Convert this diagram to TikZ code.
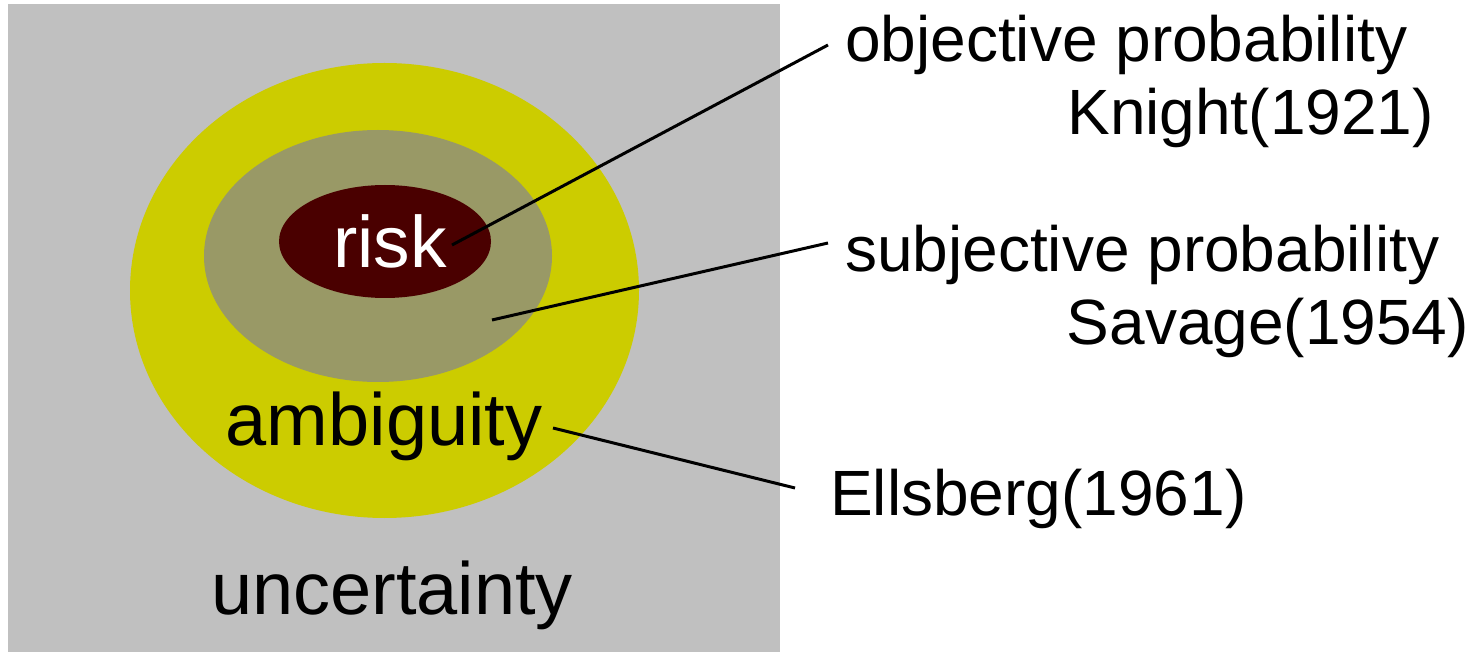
\documentclass[tikz,border=0pt]{standalone}
\usepackage{fontspec}
\setmainfont{Liberation Sans}
\definecolor{bggray}{HTML}{C0C0C0}
\definecolor{amb}{HTML}{CCCC00}
\definecolor{subj}{HTML}{999966}
\definecolor{riskc}{HTML}{4A0000}
\begin{document}
\begin{tikzpicture}[x=1pt,y=-1pt,
  lbl/.style={inner sep=0pt,font=\fontsize{64}{76}\selectfont},
  big/.style={inner sep=0pt,font=\fontsize{74}{88}\selectfont},
  conn/.style={line width=3pt}]
\useasboundingbox (0,0) rectangle (1476,652);
\fill[bggray] (8,4) rectangle (780,652);
\fill[amb] (384.5,290.5) ellipse [x radius=254.5, y radius=227.5];
\fill[subj] (378,256) ellipse [x radius=174, y radius=126];
\fill[riskc] (385,241.5) ellipse [x radius=106, y radius=56.5];
\node[big,white,anchor=base,font=\fontsize{73}{88}\selectfont] (risk) at (390,268) {risk};
\node[big,anchor=base] (amb) at (384,445) {ambiguity};
\node[big,anchor=base] (unc) at (392,614) {uncertainty};
\node[lbl,anchor=base west] (obj) at (845,62) {objective probability};
\node[lbl,anchor=base east] (kn) at (1434,135) {Knight(1921)};
\node[lbl,anchor=base west] (sub) at (845,272) {subjective probability};
\node[lbl,anchor=base east] (sav) at (1469,345) {Savage(1954)};
\node[lbl,anchor=base west] (ell) at (830,515) {Ellsberg(1961)};
\coordinate (r1) at (452,245);
\coordinate (o1) at (828,45);
\coordinate (s1) at (492,320);
\coordinate (s2) at (828,243);
\coordinate (a1) at (553,428);
\coordinate (e1) at (795,488);
\draw[conn] (r1) -- (o1);
\draw[conn] (s1) -- (s2);
\draw[conn] (a1) -- (e1);
\end{tikzpicture}
\end{document}
